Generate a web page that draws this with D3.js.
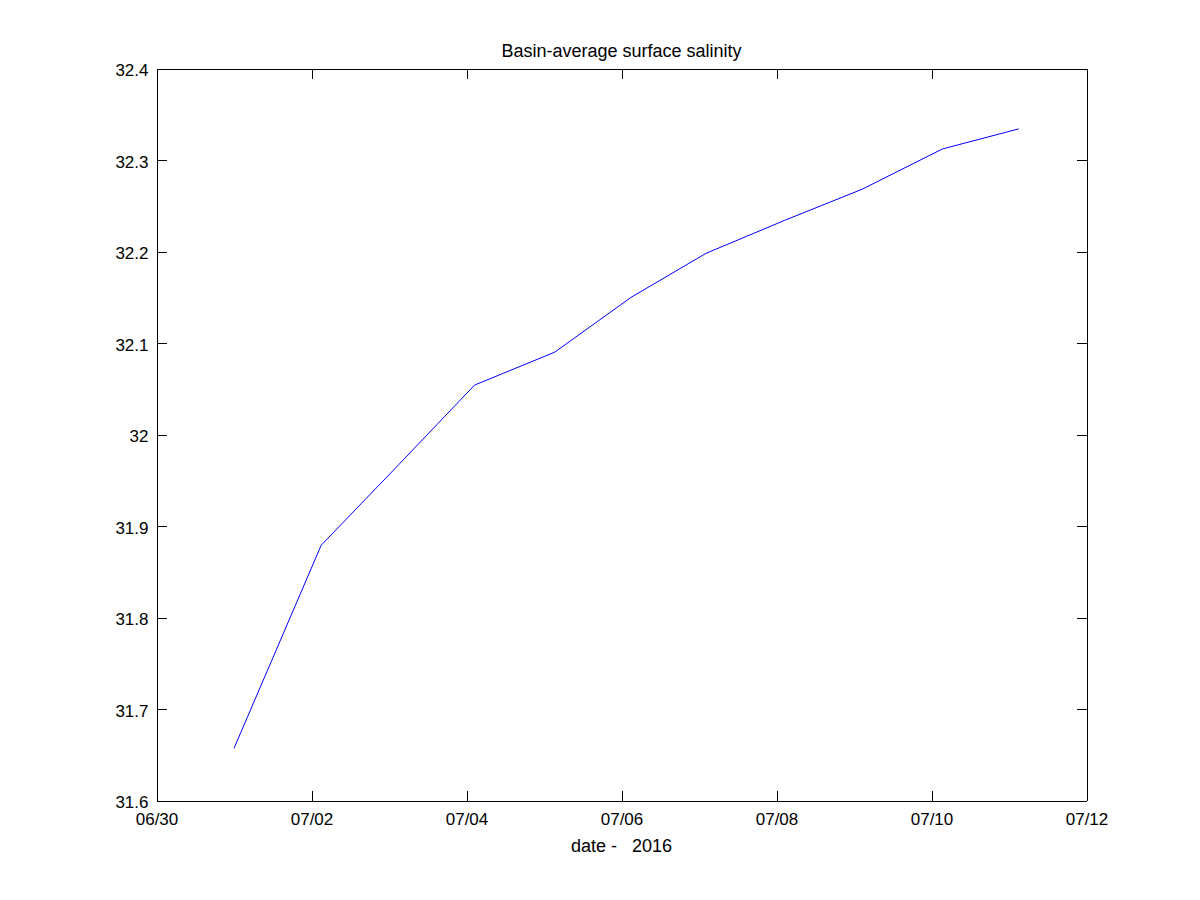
<!DOCTYPE html>
<html>
<head>
<meta charset="UTF-8">
<title>Basin-average surface salinity</title>
<script src="https://cdnjs.cloudflare.com/ajax/libs/d3/7.8.5/d3.min.js"></script>
<style>
  body { margin: 0; background: #fff; }
  svg { display: block; font-family: "Liberation Sans", Arial, Helvetica, sans-serif; }
  .axis text { font-size: 17px; fill: #000; }
  .axis path, .axis line { stroke: #000; stroke-width: 1; shape-rendering: crispEdges; }
</style>
</head>
<body>
<script>
// sample times (UTC) and basin-average salinity
var times = ["2016-07-01T00:00", "2016-07-02T03:00", "2016-07-03T03:00", "2016-07-04T02:30",
             "2016-07-05T03:20", "2016-07-06T03:00", "2016-07-07T02:10", "2016-07-08T02:30",
             "2016-07-09T02:30", "2016-07-10T03:20", "2016-07-11T03:00"];
var salinity = [31.657, 31.879, 31.967, 32.054, 32.090, 32.150, 32.198, 32.234, 32.268, 32.312, 32.334];

var xDomain = ["2016-06-30T00:00", "2016-07-12T00:00"];
var xTicks = ["2016-06-30T00:00", "2016-07-02T00:00", "2016-07-04T00:00", "2016-07-06T00:00",
              "2016-07-08T00:00", "2016-07-10T00:00", "2016-07-12T00:00"];
var yDomain = [31.6, 32.4];
var yTicks = [31.6, 31.7, 31.8, 31.9, 32, 32.1, 32.2, 32.3, 32.4];

var titleText = "Basin-average surface salinity";
var xLabelText = "date -   2016";

var W = 1200, H = 900;
var margin = {left: 156.5, right: 113.5, top: 68.5, bottom: 99.5};
var iw = W - margin.left - margin.right,
    ih = H - margin.top - margin.bottom;

var parse = d3.utcParse("%Y-%m-%dT%H:%M");
var data = times.map(function(t, i) { return {t: parse(t), v: salinity[i]}; });
var xTickDates = xTicks.map(parse);

var svg = d3.select("body").append("svg")
    .attr("width", W)
    .attr("height", H);

var g = svg.append("g").attr("transform", "translate(" + margin.left + "," + margin.top + ")");

var x = d3.scaleUtc().domain(xDomain.map(parse)).range([0, iw]);
var y = d3.scaleLinear().domain(yDomain).range([ih, 0]);

var fmtDate = d3.utcFormat("%m/%d");
var fmtVal = function(d) { return String(+d.toFixed(1)); };

// bottom axis with labels, ticks pointing inward
var xb = g.append("g").attr("class", "axis")
    .attr("transform", "translate(0," + ih + ")")
    .call(d3.axisBottom(x).tickValues(xTickDates).tickFormat(fmtDate).tickSize(-10).tickSizeOuter(0));
xb.selectAll("text").attr("y", 12).attr("dy", "0.71em");

// top axis, ticks only
g.append("g").attr("class", "axis")
    .call(d3.axisTop(x).tickValues(xTickDates).tickFormat("").tickSize(-10).tickSizeOuter(0));

// left axis with labels
var yl = g.append("g").attr("class", "axis")
    .call(d3.axisLeft(y).tickValues(yTicks).tickFormat(fmtVal).tickSize(-10).tickSizeOuter(0));
yl.selectAll("text").attr("x", -8).attr("dy", "0.42em");

// right axis, ticks only
g.append("g").attr("class", "axis")
    .attr("transform", "translate(" + iw + ",0)")
    .call(d3.axisRight(y).tickValues(yTicks).tickFormat("").tickSize(-10).tickSizeOuter(0));

// salinity line
var line = d3.line()
    .x(function(d) { return x(d.t); })
    .y(function(d) { return y(d.v); });

g.append("path")
    .datum(data)
    .attr("fill", "none")
    .attr("stroke", "#0000ff")
    .attr("stroke-width", 1)
    .attr("d", line);

// title and x label
svg.append("text")
    .attr("x", margin.left + iw / 2)
    .attr("y", 57)
    .attr("text-anchor", "middle")
    .style("font-size", "18px")
    .text(titleText);

svg.append("text")
    .attr("x", margin.left + iw / 2)
    .attr("y", 852)
    .attr("text-anchor", "middle")
    .style("font-size", "18px")
    .style("white-space", "pre")
    .attr("xml:space", "preserve")
    .text(xLabelText);
</script>
</body>
</html>
